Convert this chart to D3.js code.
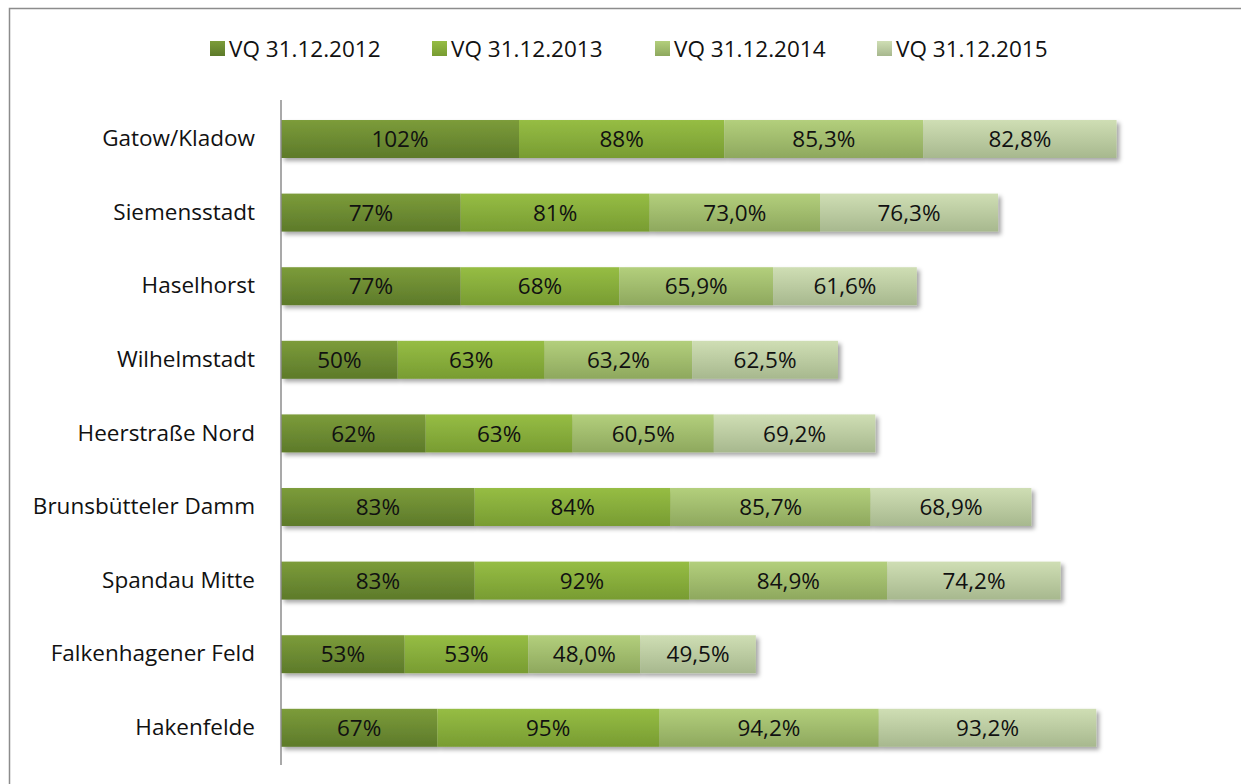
<!DOCTYPE html>
<html>
<head>
<meta charset="utf-8">
<script src="https://cdn.jsdelivr.net/npm/d3@7"></script>
<style>
  body { margin: 0; background: #fff; }
  svg { display: block; font-family: "Open Sans", Lato, sans-serif; }
</style>
</head>
<body>
<div id="chart"></div>
<script>
// data
const categories = ["Gatow/Kladow", "Siemensstadt", "Haselhorst", "Wilhelmstadt", "Heerstraße Nord",
  "Brunsbütteler Damm", "Spandau Mitte", "Falkenhagener Feld", "Hakenfelde"];
const seriesNames = ["VQ 31.12.2012", "VQ 31.12.2013", "VQ 31.12.2014", "VQ 31.12.2015"];
const vq2012 = [102, 77, 77, 50, 62, 83, 83, 53, 67];
const vq2013 = [88, 81, 68, 63, 63, 84, 92, 53, 95];
const vq2014 = [85.3, 73.0, 65.9, 63.2, 60.5, 85.7, 84.9, 48.0, 94.2];
const vq2015 = [82.8, 76.3, 61.6, 62.5, 69.2, 68.9, 74.2, 49.5, 93.2];
const decimals = [0, 0, 1, 1];

const seriesValues = [vq2012, vq2013, vq2014, vq2015];
// gradient top / bottom per series
const colors = [["#7c9c3a", "#5d7a2a"], ["#96bd44", "#789c32"], ["#b3cf7c", "#8ea85e"], ["#cfdeb4", "#a7b88e"]];

const width = 1241, height = 784;
const fontSize = 22.5;

const svg = d3.select("#chart").append("svg")
  .attr("width", width)
  .attr("height", height);

const defs = svg.append("defs");
colors.forEach((c, i) => {
  const g = defs.append("linearGradient").attr("id", "grad" + i)
    .attr("x1", 0).attr("y1", 0).attr("x2", 0).attr("y2", 1);
  g.append("stop").attr("offset", "0%").attr("stop-color", c[0]);
  g.append("stop").attr("offset", "100%").attr("stop-color", c[1]);
});
defs.append("filter").attr("id", "shadow")
  .attr("x", "-5%").attr("y", "-20%").attr("width", "110%").attr("height", "160%")
  .append("feDropShadow")
  .attr("dx", 3).attr("dy", 3).attr("stdDeviation", 2)
  .attr("flood-color", "#000").attr("flood-opacity", 0.35);

// outer frame
svg.append("rect")
  .attr("x", 9.5).attr("y", 8.5)
  .attr("width", 1300).attr("height", 900)
  .attr("fill", "none").attr("stroke", "#8c8c8c").attr("stroke-width", 1.5);

const x = d3.scaleLinear().domain([0, 360]).range([281, 1121]);
const y = d3.scaleBand().domain(categories)
  .range([102.2, 764.6])
  .paddingInner(0.484)
  .paddingOuter(0.242);

// build stacked table
const table = categories.map((c, i) => {
  const row = { cat: c };
  seriesNames.forEach((s, j) => row[s] = seriesValues[j][i]);
  return row;
});
const stack = d3.stack().keys(seriesNames)(table);

const rows = svg.append("g").selectAll("g.row")
  .data(categories)
  .join("g")
  .attr("class", "row")
  .attr("filter", "url(#shadow)");

rows.each(function(cat, ci) {
  const g = d3.select(this);
  stack.forEach((layer, si) => {
    const d = layer[ci];
    g.append("rect")
      .attr("x", x(d[0]))
      .attr("y", y(cat))
      .attr("width", x(d[1]) - x(d[0]))
      .attr("height", y.bandwidth())
      .attr("fill", `url(#grad${si})`);
  });
});

// value labels
stack.forEach((layer, si) => {
  svg.append("g").selectAll("text")
    .data(layer)
    .join("text")
    .attr("x", d => (x(d[0]) + x(d[1])) / 2)
    .attr("y", d => y(d.data.cat) + y.bandwidth() / 2)
    .attr("dy", "0.36em")
    .attr("text-anchor", "middle")
    .attr("font-size", fontSize)
    .attr("fill", "#111")
    .text(d => {
      const v = d[1] - d[0];
      return v.toFixed(decimals[si]).replace(".", ",") + "%";
    });
});

// category axis
const yAxis = svg.append("g")
  .attr("transform", "translate(281,0)")
  .call(d3.axisLeft(y).tickSize(0).tickPadding(26));
yAxis.select(".domain").remove();
yAxis.selectAll("text").attr("font-size", fontSize).attr("fill", "#111")
  .attr("font-family", "'Open Sans', Lato, sans-serif");
svg.append("line")
  .attr("x1", 281).attr("x2", 281)
  .attr("y1", 100).attr("y2", 765)
  .attr("stroke", "#8c8c8c").attr("stroke-width", 1.5);

// legend
const legendX = [210, 432, 655, 877];
const legend = svg.append("g").selectAll("g")
  .data(seriesNames)
  .join("g")
  .attr("transform", (d, i) => `translate(${legendX[i]},40)`);
legend.append("rect")
  .attr("width", 15).attr("height", 15).attr("y", 1)
  .attr("fill", (d, i) => `url(#grad${i})`);
legend.append("text")
  .attr("x", 19).attr("y", 9)
  .attr("dy", "0.36em")
  .attr("font-size", fontSize)
  .attr("fill", "#111")
  .text(d => d);
</script>
</body>
</html>
